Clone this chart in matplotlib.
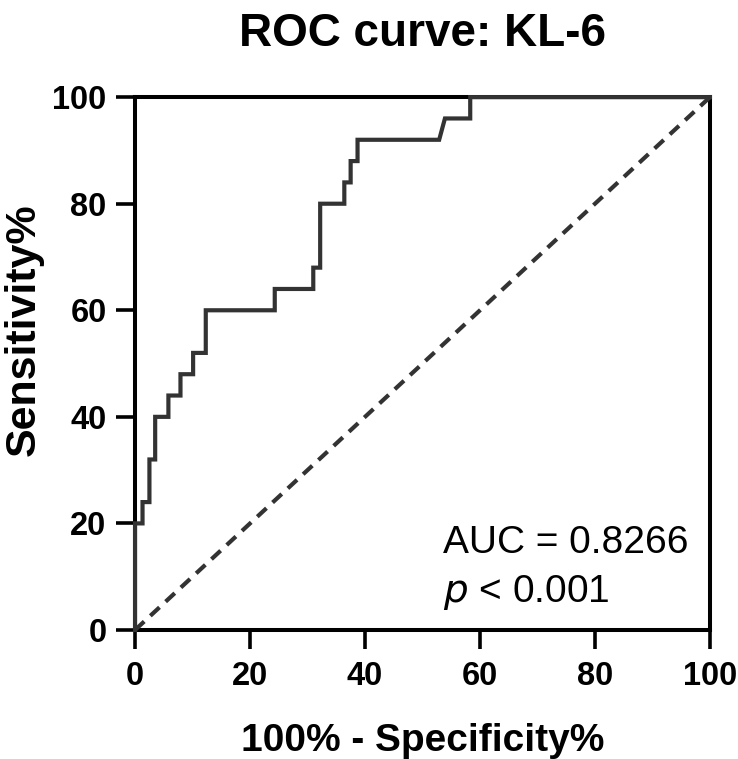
import matplotlib
matplotlib.use("Agg")
import matplotlib.pyplot as plt

plt.rcParams['font.family'] = ['Liberation Sans', 'DejaVu Sans']

# ROC curve data (100% - Specificity%, Sensitivity%)
fpr = [0, 0, 1.3, 1.3, 2.5, 2.5, 3.5, 3.5, 5.8, 5.8, 7.9, 7.9, 10.1, 10.1,
       12.3, 12.3, 24.3, 24.3, 31.0, 31.0, 32.2, 32.2, 36.4, 36.4, 37.5, 37.5,
       38.7, 38.7, 52.9, 53.9, 58.3, 58.3, 100]
tpr = [0, 20, 20, 24, 24, 32, 32, 40, 40, 44, 44, 48, 48, 52,
       52, 60, 60, 64, 64, 68, 68, 80, 80, 84, 84, 88,
       88, 92, 92, 96, 96, 100, 100]
ref_x = [0, 100]
ref_y = [0, 100]
ticks = [0, 20, 40, 60, 80, 100]
auc_text = "AUC = 0.8266"

W, H = 738, 759
fig = plt.figure(figsize=(W / 100, H / 100), dpi=100)
ax = fig.add_axes([0.183, 0.170, 0.779, 0.702])

ax.plot(fpr, tpr, color='#333333', lw=3.0, solid_joinstyle='miter',
        clip_on=False, zorder=4)
ax.plot(ref_x, ref_y, color='#333333', lw=3.0, linestyle=(0, (3, 2)),
        clip_on=False, zorder=3)

ax.set_xlim(0, 100)
ax.set_ylim(0, 100)
ax.set_xticks(ticks)
ax.set_yticks(ticks)
for s in ax.spines.values():
    s.set_linewidth(2.9)
    s.set_color('black')
ax.tick_params(axis='both', direction='out', length=14, width=2.6,
               labelsize=23.5)
ax.tick_params(axis='y', pad=6.5)
ax.tick_params(axis='x', pad=8)
for lab in ax.get_xticklabels() + ax.get_yticklabels():
    lab.set_fontweight('bold')

ax.set_title("ROC curve: KL-6", fontsize=33, fontweight='bold', pad=37)
fig.text((135 + 710) / 2 / W, 1 - 751 / H, "100% - Specificity%",
         fontsize=28, fontweight='bold', ha='center', va='baseline')
fig.text(24 / W, 1 - 330 / H, "Sensitivity%", fontsize=31, fontweight='bold',
         rotation=90, ha='center', va='center')

ax.text(53.5, 14.5, auc_text, fontsize=28, ha='left', va='baseline')
ax.text(53.5, 5.3, r"$\it{p}$ < 0.001", fontsize=28, ha='left', va='baseline')

fig.savefig("out.png", dpi=100)
